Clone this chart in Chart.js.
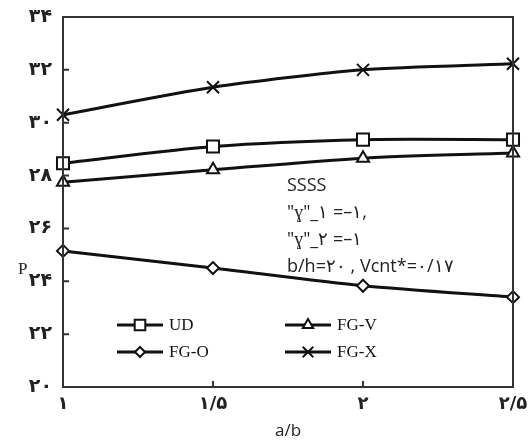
<!DOCTYPE html>
<html lang="en">
<head>
    <meta charset="UTF-8">
    <title>P vs a/b</title>
    <script src="https://cdn.jsdelivr.net/npm/chart.js"></script>
    <style>
        body { margin: 0; background: #fff; }
        #wrap { width: 528px; height: 441px; position: relative; }
    </style>
</head>
<body>
    <div id="wrap"><canvas id="pChart"></canvas></div>

    <script>
        // values
        const ratios = [1, 1.5, 2, 2.5];
        const udValues = [28.47, 29.1, 29.36, 29.36];
        const fgvValues = [27.75, 28.22, 28.66, 28.85];
        const fgoValues = [25.15, 24.5, 23.83, 23.4];
        const fgxValues = [30.3, 31.34, 32.0, 32.23];
        const yTicks = [20, 22, 24, 26, 28, 30, 32, 34];
        const noteLines = ['SSSS', '"ɣ"_۱ =–۱,', '"ɣ"_۲ =–۱', 'b/h=۲۰ , Vcnt*=۰/۱۷'];

        const faDigits = '۰۱۲۳۴۵۶۷۸۹';
        function toFa(v) {
            return String(v).replace(/[0-9]/g, d => faDigits[d]).replace('.', '/');
        }

        const series = [
            { label: 'UD', data: udValues, style: 'rect', r: 8.5, lr: 7.5 },
            { label: 'FG-V', data: fgvValues, style: 'triangle', r: 7, lr: 6 },
            { label: 'FG-O', data: fgoValues, style: 'rectRot', r: 6, lr: 5 },
            { label: 'FG-X', data: fgxValues, style: 'crossRot', r: 8.5, lr: 7.5 }
        ];

        const decorations = {
            id: 'decorations',
            afterDatasetsDraw(chart) {
                const ctx = chart.ctx;
                const a = chart.chartArea;
                const xs = chart.scales.x, ys = chart.scales.y;
                ctx.save();
                ctx.strokeStyle = '#333';
                ctx.lineWidth = 2;
                ctx.strokeRect(a.left, a.top, a.right - a.left, a.bottom - a.top);
                // inner tick marks
                ctx.beginPath();
                yTicks.slice(1, -1).forEach(v => {
                    const y = ys.getPixelForValue(v);
                    ctx.moveTo(a.left, y); ctx.lineTo(a.left + 6, y);
                });
                ratios.slice(1, -1).forEach(v => {
                    const x = xs.getPixelForValue(v);
                    ctx.moveTo(x, a.bottom); ctx.lineTo(x, a.bottom - 6);
                });
                ctx.stroke();

                // legend inside the plot
                const spots = [[117, 325], [285, 325], [117, 352], [285, 352]];
                ctx.font = '17px "Liberation Serif"';
                ctx.textBaseline = 'middle';
                series.forEach((s, i) => {
                    const [lx, ly] = spots[i];
                    ctx.strokeStyle = '#111';
                    ctx.lineWidth = 3;
                    ctx.beginPath();
                    ctx.moveTo(lx, ly); ctx.lineTo(lx + 46, ly);
                    ctx.stroke();
                    ctx.fillStyle = '#fff';
                    ctx.lineWidth = 2;
                    Chart.helpers.drawPoint(ctx, { pointStyle: s.style, radius: s.lr, rotation: 0, borderWidth: 2 }, lx + 23, ly);
                    ctx.fillStyle = '#111';
                    ctx.fillText(s.label, lx + 52, ly + 1);
                });

                // annotation
                ctx.font = '18px "Open Sans"';
                ctx.fillStyle = '#222';
                noteLines.forEach((t, i) => ctx.fillText(t, 287, 186 + i * 27));

                // axis titles
                ctx.font = '17px "Liberation Serif"';
                ctx.fillText('P', 18, 270);
                ctx.font = '17px "Open Sans"';
                ctx.textAlign = 'center';
                ctx.fillText('a/b', 288, 431);
                ctx.restore();
            }
        };

        new Chart(document.getElementById('pChart'), {
            type: 'line',
            data: {
                datasets: series.map(s => ({
                    label: s.label,
                    data: s.data.map((v, i) => ({ x: ratios[i], y: v })),
                    borderColor: '#111',
                    borderWidth: 3,
                    tension: 0.25,
                    pointStyle: s.style,
                    pointRadius: s.r,
                    pointBorderWidth: 2,
                    pointBackgroundColor: '#fff',
                    pointBorderColor: '#111',
                    clip: false
                }))
            },
            options: {
                responsive: true,
                maintainAspectRatio: false,
                animation: false,
                layout: { padding: { top: 17, right: 15, left: 0, bottom: 0 } },
                plugins: { legend: { display: false }, tooltip: { enabled: false } },
                scales: {
                    x: {
                        type: 'linear',
                        min: 1, max: 2.5,
                        afterBuildTicks: s => { s.ticks = ratios.map(v => ({ value: v })); },
                        afterFit: s => { s.height = 54; s.paddingLeft = 0; s.paddingRight = 0; },
                        grid: { display: false, drawTicks: false },
                        border: { display: false },
                        ticks: {
                            padding: 7,
                            color: '#222',
                            font: { family: 'DejaVu Sans', size: 18, weight: 'bold' },
                            callback: v => toFa(v)
                        }
                    },
                    y: {
                        min: 20, max: 34,
                        afterBuildTicks: s => { s.ticks = yTicks.map(v => ({ value: v })); },
                        afterFit: s => { s.width = 63; s.paddingTop = 0; s.paddingBottom = 0; },
                        grid: { display: false, drawTicks: false },
                        border: { display: false },
                        ticks: {
                            padding: 11,
                            color: '#222',
                            font: { family: 'DejaVu Sans', size: 19, weight: 'bold' },
                            callback: v => toFa(v)
                        }
                    }
                }
            },
            plugins: [decorations]
        });
    </script>
</body>
</html>
